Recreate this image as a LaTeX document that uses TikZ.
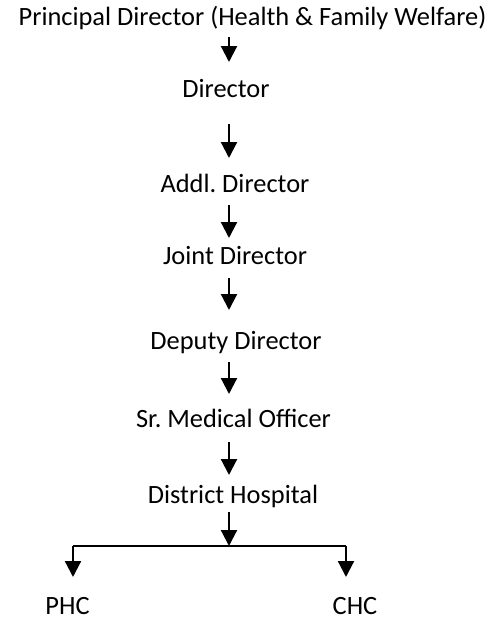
\documentclass[tikz,border=0pt]{standalone}
\usepackage{fontspec}
\setmainfont{Carlito}
\usetikzlibrary{arrows.meta}
\frenchspacing
\begin{document}
\begin{tikzpicture}[x=1pt,y=-1pt,
  lbl/.style={anchor=base,inner sep=0pt,font=\fontsize{26.4}{30}\selectfont},
  arr/.style={line width=2.2pt,-{Triangle[length=16pt,width=16pt]}},
  ln/.style={line width=2pt}]
\useasboundingbox (0,0) rectangle (494,622);
\node[lbl] (pd) at (252.5,25) {Principal Director (Health \& Family Welfare)};
\node[lbl] (d) at (226,97) {Director};
\node[lbl] (ad) at (235,192) {Addl. Director};
\node[lbl] (jd) at (235,264) {Joint Director};
\node[lbl] (dd) at (236,349) {Deputy Director};
\node[lbl] (smo) at (233.5,427) {Sr. Medical Officer};
\node[lbl] (dh) at (233,503) {District Hospital};
\node[lbl] (phc) at (67.5,614) {PHC};
\node[lbl] (chc) at (355,614) {CHC};
\coordinate (a1s) at (229,37);  \coordinate (a1e) at (229,62);
\coordinate (a2s) at (229,124); \coordinate (a2e) at (229,158);
\coordinate (a3s) at (229,205); \coordinate (a3e) at (229,238);
\coordinate (a4s) at (229,278); \coordinate (a4e) at (229,310);
\coordinate (a5s) at (229,362); \coordinate (a5e) at (229,394);
\coordinate (a6s) at (229,442); \coordinate (a6e) at (229,475);
\coordinate (a7s) at (229,512); \coordinate (a7e) at (229,546);
\coordinate (hl) at (73,546); \coordinate (hr) at (346,546);
\coordinate (le) at (73,577); \coordinate (re) at (346,577);
\draw[arr] (a1s) -- (a1e);
\draw[arr] (a2s) -- (a2e);
\draw[arr] (a3s) -- (a3e);
\draw[arr] (a4s) -- (a4e);
\draw[arr] (a5s) -- (a5e);
\draw[arr] (a6s) -- (a6e);
\draw[arr] (a7s) -- (a7e);
\draw[ln] (hl) -- (hr);
\draw[arr] (hl) -- (le);
\draw[arr] (hr) -- (re);
\end{tikzpicture}
\end{document}
